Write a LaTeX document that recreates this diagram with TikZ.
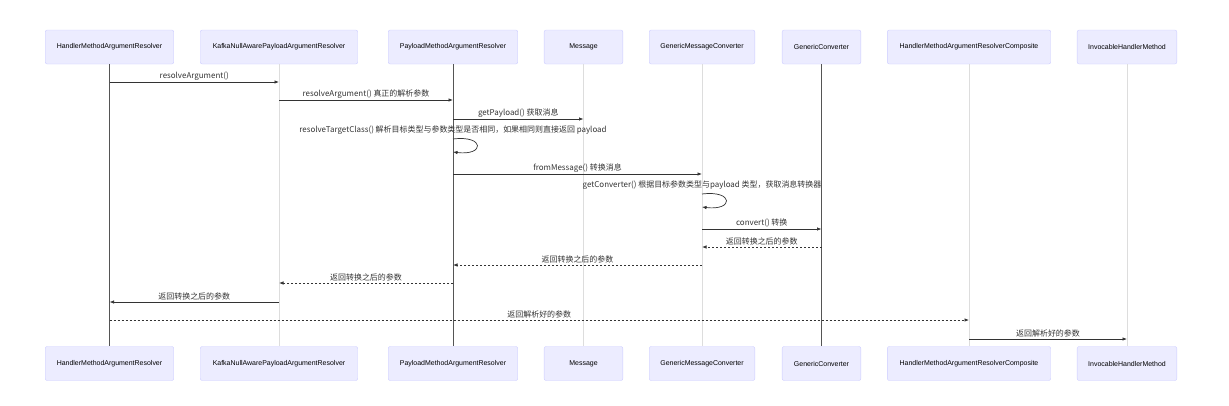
\documentclass[tikz,border=0pt]{standalone}
\usepackage{fontspec}
\usepackage{xcolor}
\usepackage{tikz}
\usetikzlibrary{arrows.meta}
\newfontfamily\boxfont{Liberation Sans}
\newfontfamily\msgfont{Noto Sans CJK SC}
\definecolor{actorfill}{HTML}{ECECFF}
\definecolor{actorline}{HTML}{CCCCFF}
\definecolor{lifedark}{HTML}{555555}
\definecolor{lifelight}{HTML}{DDDDDD}
\definecolor{msgcol}{HTML}{333333}
\tikzset{
	actor/.style={draw=actorline, fill=actorfill, rounded corners=2bp, minimum height=34bp, inner sep=0pt, font=\boxfont\fontsize{7}{8}\selectfont},
	lifeD/.style={draw=lifedark, line width=0.6bp},
	lifeL/.style={draw=lifelight, line width=0.6bp},
	call/.style={draw=msgcol, line width=0.7bp, -{Latex[length=4.5bp,width=3.5bp]}},
	reply/.style={call, dash pattern=on 2bp off 2bp},
	lbl/.style={above, inner sep=1.2bp, text=msgcol, font=\msgfont\fontsize{8}{9}\selectfont}
}
\begin{document}
\begin{tikzpicture}[x=1bp, y=-1bp]
	\useasboundingbox (0,0) rectangle (1229,405);
	\foreach \nm/\xx/\ww/\tx in {hmar/109.5/129/HandlerMethodArgumentResolver, kafka/279/158/KafkaNullAwarePayloadArgumentResolver, pmar/453/130/PayloadMethodArgumentResolver, msg/583.5/79/Message, gmc/702/106/GenericMessageConverter, gconv/821.5/79/GenericConverter, comp/969/164/HandlerMethodArgumentResolverComposite, ihm/1127/100/InvocableHandlerMethod}{
		\node[actor, minimum width=\ww] (\nm T) at (\xx,47) {\tx};
		\node[actor, minimum width=\ww] (\nm B) at (\xx,363.5) {\tx};
	}
	\draw[lifeL] (kafkaT.south) -- (kafkaB.north);
	\draw[lifeL] (msgT.south) -- (msgB.north);
	\draw[lifeL] (gmcT.south) -- (gmcB.north);
	\draw[lifeL] (compT.south) -- (compB.north);
	\draw[lifeL] (ihmT.south) -- (ihmB.north);
	\draw[lifeD] (hmarT.south) -- (hmarB.north);
	\draw[lifeD] (pmarT.south) -- (pmarB.north);
	\draw[lifeD] (gconvT.south) -- (gconvB.north);

	\draw[call] (hmarT |- 0,82) -- node[lbl] {resolveArgument()} (kafkaT |- 0,82);
	\draw[call] (kafkaT |- 0,100) -- node[lbl] {resolveArgument() 真正的解析参数} (pmarT |- 0,100);
	\draw[call] (pmarT |- 0,119) -- node[lbl] {getPayload() 获取消息} (msgT |- 0,119);
	\node[lbl] (loopA) at (pmarT |- 0,136) {resolveTargetClass() 解析目标类型与参数类型是否相同，如果相同则直接返回 payload};
	\draw[call] (pmarT |- 0,139) .. controls +(32,-4) and +(32,4) .. (pmarT |- 0,152);
	\draw[call] (pmarT |- 0,174) -- node[lbl] {fromMessage() 转换消息} (gmcT |- 0,174);
	\node[lbl] (loopB) at (gmcT |- 0,191) {getConverter() 根据目标参数类型与payload 类型，获取消息转换器};
	\draw[call] (gmcT |- 0,194) .. controls +(32,-4) and +(32,4) .. (gmcT |- 0,207);
	\draw[call] (gmcT |- 0,229) -- node[lbl] {convert() 转换} (gconvT |- 0,229);
	\draw[reply] (gconvT |- 0,247) -- node[lbl] {返回转换之后的参数} (gmcT |- 0,247);
	\draw[reply] (gmcT |- 0,265) -- node[lbl] {返回转换之后的参数} (pmarT |- 0,265);
	\draw[reply] (pmarT |- 0,283) -- node[lbl] {返回转换之后的参数} (kafkaT |- 0,283);
	\draw[call] (kafkaT |- 0,302) -- node[lbl] {返回转换之后的参数} (hmarT |- 0,302);
	\draw[reply] (hmarT |- 0,320) -- node[lbl] {返回解析好的参数} (compT |- 0,320);
	\draw[call] (compT |- 0,339) -- node[lbl] {返回解析好的参数} (ihmT |- 0,339);
\end{tikzpicture}
\end{document}
